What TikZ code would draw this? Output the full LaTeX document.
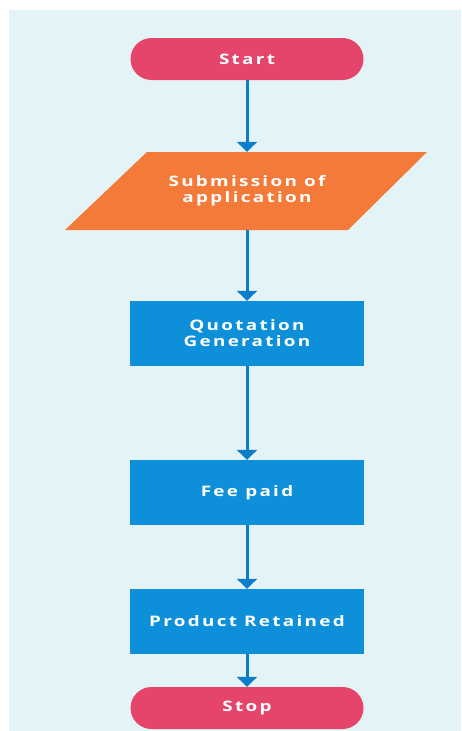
\documentclass[tikz,border=0pt]{standalone}
\usepackage{fontspec}
\setmainfont{Open Sans}
\newfontfamily\chartfont{Open Sans}[FakeStretch=1.3,LetterSpace=16]
\usetikzlibrary{arrows.meta,calc}
\definecolor{bgcyan}{HTML}{E4F3F6}
\definecolor{termred}{HTML}{E6456B}
\definecolor{submorange}{HTML}{F47A3A}
\definecolor{procblue}{HTML}{0D8FDA}
\definecolor{arrowblue}{HTML}{0B7DCA}
\tikzset{
  terminal/.style={fill=termred, rounded corners=21pt, minimum width=233pt,
    minimum height=42pt, text=white, font=\chartfont\bfseries\fontsize{14.5}{16}\selectfont},
  process/.style={fill=procblue, minimum width=234pt, minimum height=65pt,
    align=center, text=white, font=\chartfont\bfseries\fontsize{14.5}{16}\selectfont},
  inputtext/.style={minimum height=78pt, inner sep=0pt, align=center, text=white,
    font=\chartfont\bfseries\fontsize{14.5}{16}\selectfont},
  flow/.style={-{Triangle[width=20pt,length=10pt]}, line width=3pt, arrowblue}
}
\begin{document}
\begin{tikzpicture}[x=1pt,y=-1pt]
  \useasboundingbox (0,0) rectangle (461,731);
  \fill[bgcyan] (9,10) rectangle (461,731);
  % terminals and steps
  \node[terminal] (start) at (247,59) {Start};
  \fill[submorange] (65,230) -- (147,152) -- (427,152) -- (348,230) -- cycle;
  \node[inputtext] (submit) at (247,191) {Submission of\\application};
  \node[process] (quote) at (247,333.5) {Quotation\\Generation};
  \node[process] (fee) at (247,492.5) {Fee paid};
  \node[process] (retain) at (247,621.5) {Product Retained};
  \node[terminal] (stop) at (247,708) {Stop};
  % connectors
  \draw[flow] (start) -- (submit);
  \draw[flow] (submit) -- (quote);
  \draw[flow] (quote) -- (fee);
  \draw[flow] (fee) -- (retain);
  \draw[flow] (retain) -- (stop);
\end{tikzpicture}
\end{document}
